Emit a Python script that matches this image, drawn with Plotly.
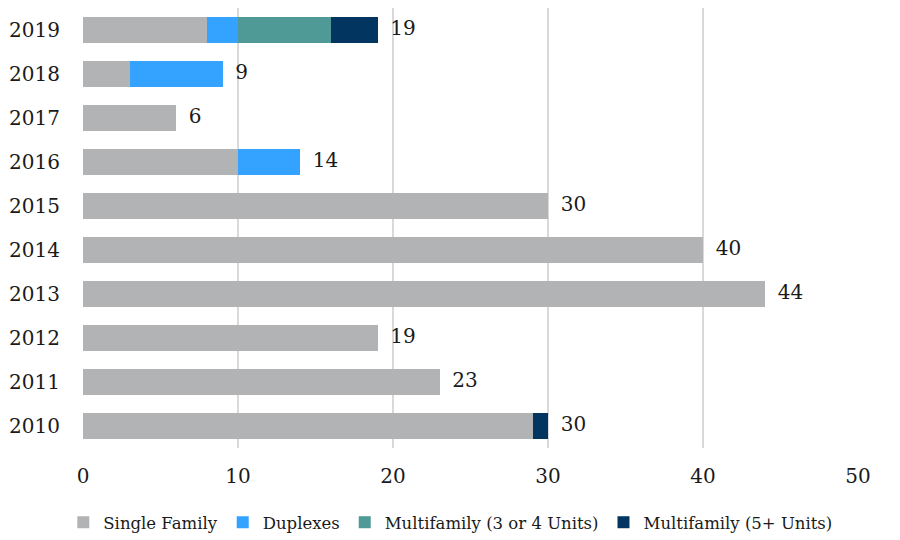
import plotly.graph_objects as go

years = ["2010", "2011", "2012", "2013", "2014", "2015", "2016", "2017", "2018", "2019"]
single_family = [29, 23, 19, 44, 40, 30, 10, 6, 3, 8]
duplexes = [0, 0, 0, 0, 0, 0, 4, 0, 6, 2]
multi_3_4 = [0, 0, 0, 0, 0, 0, 0, 0, 0, 6]
multi_5plus = [1, 0, 0, 0, 0, 0, 0, 0, 0, 3]

series = [
    ("Single Family", single_family, "#B2B3B5"),
    ("Duplexes", duplexes, "#33A3FF"),
    ("Multifamily (3 or 4 Units)", multi_3_4, "#4F9A96"),
    ("Multifamily (5+ Units)", multi_5plus, "#023660"),
]

totals = [sum(v) for v in zip(single_family, duplexes, multi_3_4, multi_5plus)]

FONT = "DejaVu Serif"
TXT = "#1a1a1a"

fig = go.Figure()
for name, vals, color in series:
    fig.add_trace(go.Bar(
        y=years, x=vals, name=name, orientation="h",
        marker=dict(color=color, line=dict(width=0)),
        hoverinfo="x+name",
    ))

fig.add_trace(go.Scatter(
    y=years, x=totals, mode="text",
    text=[f"  {t}" for t in totals], textposition="middle right",
    textfont=dict(family=FONT, size=20, color=TXT),
    showlegend=False, hoverinfo="skip", cliponaxis=False,
))

fig.update_layout(
    barmode="stack",
    bargap=0.41,
    width=892, height=532,
    margin=dict(l=75, r=42, t=0, b=92, autoexpand=False),
    paper_bgcolor="white", plot_bgcolor="white",
    font=dict(family=FONT, size=20, color=TXT),
    xaxis=dict(
        range=[0, 50], dtick=10, showgrid=True, gridcolor="#D9D9D9", gridwidth=2,
        zeroline=False, showline=False, ticks="", tickfont=dict(size=20),
        fixedrange=True, automargin=False, ticklabelstandoff=14,
    ),
    yaxis=dict(
        categoryorder="array", categoryarray=years, showgrid=False, zeroline=False,
        showline=False, ticks="", tickfont=dict(size=20), ticklabelstandoff=22,
        fixedrange=True, automargin=False,
    ),
    legend=dict(
        orientation="h", xref="container", yref="container",
        x=0.062, xanchor="left", y=0.0, yanchor="bottom",
        font=dict(size=16.5), itemwidth=30, tracegroupgap=0,
        traceorder="normal",
    ),
)

fig.write_html("out.html")
